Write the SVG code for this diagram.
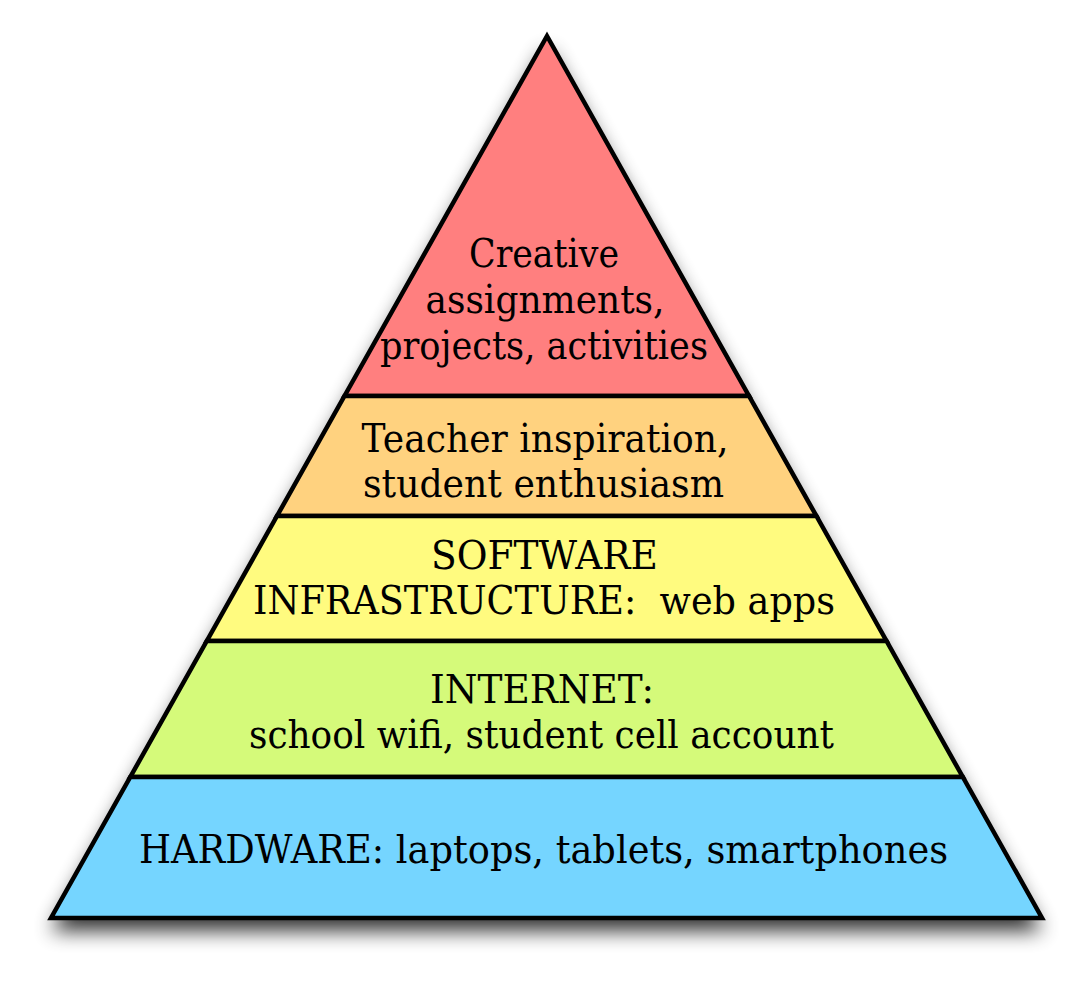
<svg xmlns="http://www.w3.org/2000/svg" width="1087" height="983" viewBox="0 0 1087 983">
  <defs>
    <filter id="shadow" x="-10%" y="-10%" width="120%" height="130%">
      <feGaussianBlur in="SourceAlpha" stdDeviation="10"/>
      <feOffset dx="0" dy="13" result="b"/>
      <feComponentTransfer><feFuncA type="linear" slope="0.8"/></feComponentTransfer>
    </filter>
  </defs>
  <style>
    .layer { stroke: #000; stroke-width: 4.5; stroke-linejoin: miter; }
    .lbl { font-family: "DejaVu Serif", "Liberation Serif", serif; font-size: 38.5px; fill: #000; text-anchor: middle; }
  </style>
  <rect width="1087" height="983" fill="#fff"/>
  <polygon points="547,36 1042,918 51,918" fill="#000" filter="url(#shadow)"/>
  <g id="layer-creative">
    <polygon class="layer" fill="#FF7F7F" points="547,36 749,396 344.5,396"/>
    <text class="lbl" x="544" y="267" textLength="150" lengthAdjust="spacingAndGlyphs">Creative</text>
    <text class="lbl" x="545" y="313" textLength="239" lengthAdjust="spacingAndGlyphs">assignments,</text>
    <text class="lbl" x="544" y="359" textLength="328" lengthAdjust="spacingAndGlyphs">projects, activities</text>
  </g>
  <g id="layer-inspiration">
    <polygon class="layer" fill="#FFD27F" points="344.5,396 749,396 816.4,516 277,516"/>
    <text class="lbl" x="545" y="452" textLength="367" lengthAdjust="spacingAndGlyphs">Teacher inspiration,</text>
    <text class="lbl" x="543.5" y="497" textLength="361" lengthAdjust="spacingAndGlyphs">student enthusiasm</text>
  </g>
  <g id="layer-software">
    <polygon class="layer" fill="#FFFB7F" points="277,516 816.4,516 886.5,641 206.8,641"/>
    <text class="lbl" x="544.5" y="569" textLength="227" lengthAdjust="spacingAndGlyphs">SOFTWARE</text>
    <text class="lbl" x="544" y="614" textLength="582" lengthAdjust="spacingAndGlyphs" xml:space="preserve">INFRASTRUCTURE:  web apps</text>
  </g>
  <g id="layer-internet">
    <polygon class="layer" fill="#D5FA7A" points="206.8,641 886.5,641 962.8,777 130.3,777"/>
    <text class="lbl" x="542" y="703" textLength="224" lengthAdjust="spacingAndGlyphs">INTERNET:</text>
    <text class="lbl" x="541.5" y="748" textLength="585" lengthAdjust="spacingAndGlyphs">school wifi, student cell account</text>
  </g>
  <g id="layer-hardware">
    <polygon class="layer" fill="#75D5FF" points="130.3,777 962.8,777 1042,918 51,918"/>
    <text class="lbl" x="543.5" y="863" textLength="809" lengthAdjust="spacingAndGlyphs">HARDWARE: laptops, tablets, smartphones</text>
  </g>
  <g id="connectors"/>
</svg>
